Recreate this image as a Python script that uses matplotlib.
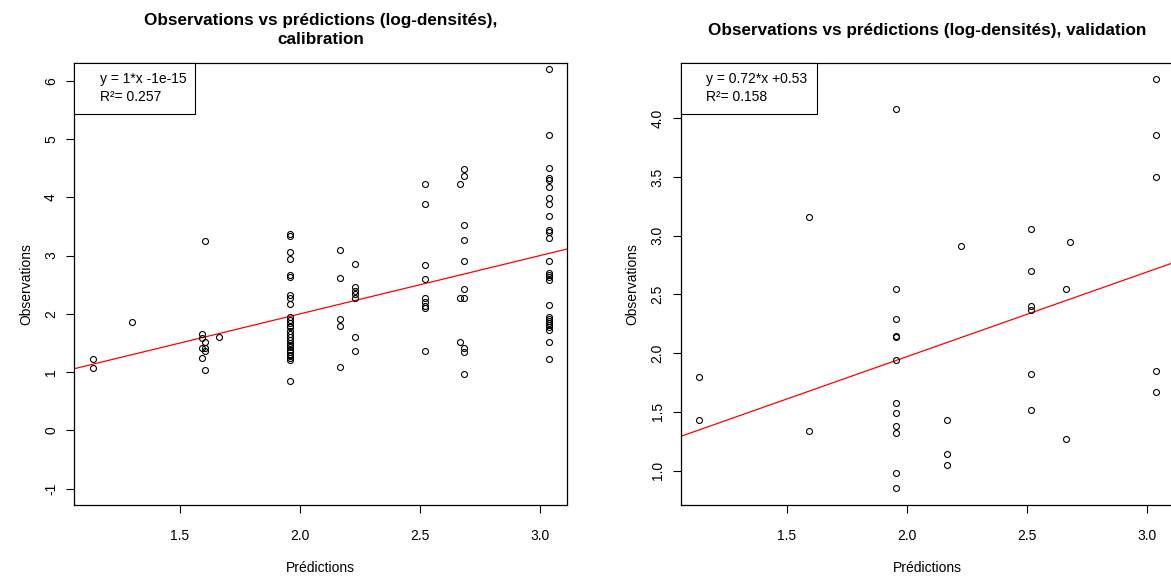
import numpy as np
import matplotlib
matplotlib.use("Agg")
import matplotlib.pyplot as plt
from matplotlib.lines import Line2D

plt.rcParams['font.family'] = ['Liberation Sans', 'DejaVu Sans']

# --- données : calibration ---
pred_cal = ([1.136] * 2 + [1.30] + [1.593] * 4 + [1.604] * 5 + [1.664]
            + [1.957] * 28 + [2.168] * 5 + [2.228] * 7 + [2.521] * 9
            + [2.665] * 3 + [2.685] * 10 + [3.039] * 27)
obs_cal = ([1.23, 1.07] + [1.86]
           + [1.65, 1.58, 1.41, 1.25]
           + [3.25, 1.51, 1.41, 1.37, 1.04]
           + [1.61]
           + [3.37, 3.34, 3.07, 2.94, 2.66, 2.64, 2.32, 2.28, 2.17, 1.95,
              1.90, 1.84, 1.80, 1.78, 1.71, 1.66, 1.60, 1.56, 1.50, 1.47,
              1.43, 1.38, 1.35, 1.30, 1.27, 1.24, 1.21, 0.85]
           + [3.10, 2.62, 1.91, 1.80, 1.09]
           + [2.86, 2.46, 2.40, 2.34, 2.28, 1.61, 1.36]
           + [4.23, 3.89, 2.84, 2.59, 2.27, 2.20, 2.14, 2.10, 1.36]
           + [4.23, 2.28, 1.52]
           + [4.49, 4.37, 3.52, 3.26, 2.90, 2.43, 2.28, 1.42, 1.34, 0.97]
           + [6.20, 5.07, 4.51, 4.33, 4.30, 4.18, 3.98, 3.89, 3.68, 3.44,
              3.41, 3.30, 2.91, 2.70, 2.67, 2.63, 2.58, 2.15, 1.95, 1.91,
              1.88, 1.85, 1.81, 1.78, 1.72, 1.52, 1.23])
slope_cal, intercept_cal = 1.0, -1e-15
r2_cal = 0.257

# --- données : validation ---
pred_val = ([1.136] * 2 + [1.592] * 2 + [1.955] * 12 + [2.167] * 3 + [2.225]
            + [2.518] * 6 + [2.663] * 2 + [2.682] + [3.037] * 5)
obs_val = ([1.80, 1.43] + [3.16, 1.34]
           + [4.08, 2.55, 2.29, 2.15, 2.14, 1.94, 1.58, 1.49, 1.38, 1.32, 0.98, 0.85]
           + [1.43, 1.14, 1.05] + [2.91]
           + [3.06, 2.70, 2.40, 2.37, 1.82, 1.52]
           + [2.55, 1.27] + [2.95]
           + [4.33, 3.86, 3.50, 1.85, 1.67])
slope_val, intercept_val = 0.72, 0.53
r2_val = 0.158

titres = ["Observations vs prédictions (log-densités),\ncalibration",
          "Observations vs prédictions (log-densités), validation"]
legendes = [["y = 1*x -1e-15", "R²= 0.257"],
            ["y = 0.72*x +0.53", "R²= 0.158"]]

W, H = 1171, 576
fig = plt.figure(figsize=(W / 100, H / 100), dpi=100)
ax1 = fig.add_axes([74 / W, 71 / H, 493.3 / W, 441.7 / H])
ax2 = fig.add_axes([680.7 / W, 71 / H, 493.3 / W, 441.7 / H])

panneaux = [
    (ax1, pred_cal, obs_cal, slope_cal, intercept_cal, (-1.28, 6.30), np.arange(-1, 7, 1), "%d"),
    (ax2, pred_val, obs_val, slope_val, intercept_val, (0.708, 4.467), np.arange(1.0, 4.5, 0.5), "%.1f"),
]

fs = 10
for i, (ax, x, y, a, b, ylim, yticks, fmt) in enumerate(panneaux):
    ax.plot(x, y, 'o', mfc='none', mec='black', ms=4.3, mew=0.8, zorder=3)
    ax.axline((0, b), slope=a, color='red', lw=0.9, zorder=2)
    ax.set_xlim(1.058, 3.114)
    ax.set_ylim(*ylim)
    ax.set_xticks([1.5, 2.0, 2.5, 3.0])
    ax.set_xticklabels(["1.5", "2.0", "2.5", "3.0"])
    ax.set_yticks(yticks)
    ax.set_yticklabels([fmt % v for v in yticks], rotation=90, va='center')
    ax.tick_params(direction='out', length=5.5, width=0.8, labelsize=fs)
    ax.tick_params(axis='x', pad=12)
    ax.tick_params(axis='y', pad=6)
    for s in ax.spines.values():
        s.set_linewidth(0.9)
    ax.set_xlabel("Prédictions", fontsize=fs, labelpad=12.5)
    ax.set_ylabel("Observations", fontsize=fs, labelpad=8)
    ax.text(0.5, 1.075, titres[i], transform=ax.transAxes, ha='center', va='center',
            fontsize=12.3, fontweight='bold', linespacing=1.35)
    handles = [Line2D([], [], linestyle='none')] * 2
    leg = ax.legend(handles, legendes[i], loc='upper left', borderaxespad=0,
                    fancybox=False, edgecolor='black', framealpha=1,
                    fontsize=fs, handlelength=0.8, handletextpad=0.4,
                    labelspacing=0.3, borderpad=0.65)
    leg.get_frame().set_linewidth(0.8)

fig.savefig("out.png", dpi=100)
